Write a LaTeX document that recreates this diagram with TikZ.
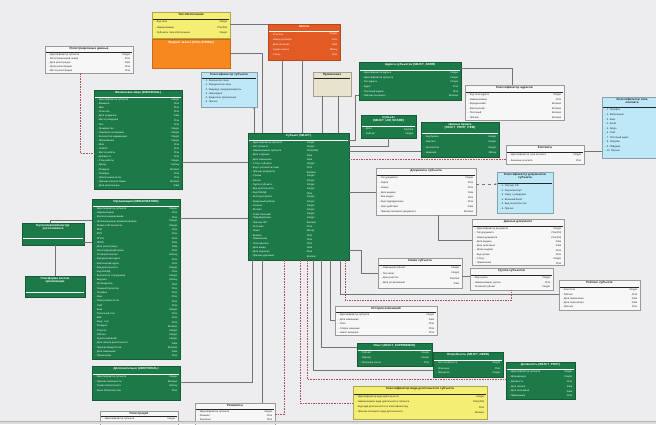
\documentclass[tikz,border=0pt]{standalone}
\usepackage{fontspec}
\setmainfont{Liberation Sans}
\usetikzlibrary{calc,fit,arrows.meta}

\definecolor{bgcol}{HTML}{EDEDEF}
\definecolor{gfill}{HTML}{1C7A48}
\definecolor{ofill}{HTML}{F7871F}
\definecolor{rfill}{HTML}{E25A24}
\definecolor{yfill}{HTML}{F4EE72}
\definecolor{bfill}{HTML}{BDE8F7}
\definecolor{tfill}{HTML}{E7E3CC}
\definecolor{redln}{HTML}{B5505A}

\newcommand\rowfont{\fontsize{2.5}{2.8}\selectfont}
\newcommand\ttlfont{\fontsize{3}{3.4}\selectfont\bfseries}

% entity box: name, box style, text style, x1, y1, x2, y2, title, rule offset
\newcommand\entbox[9]{%
  \node[#2, fit={(#4,#5) (#6,#7)}] (#1) {};
  \node[#3, font=\ttlfont, anchor=north, align=center] (#1-t) at ($(#1.north)+(0,1.1)$) {#8};
  \draw[#3, line width=0.2pt] ($(#1.north west)+(1.5,#9)$) -- ($(#1.north east)+(-1.5,#9)$);
}
% attribute rows, type column flush right: box, start offset, step, text style, list name/type
\newcommand\rows[5]{%
  \foreach \a/\b [count=\i] in {#5} {
    \node[#4, anchor=west] (#1-a\i) at ($(#1.north west)+(2.5,#2+\i*#3-#3/2+0.8)$) {-\hspace{1.2pt}\a};
    \node[#4, anchor=east] (#1-b\i) at ($(#1.north east)+(-2.5,#2+\i*#3-#3/2+0.8)$) {\b};
  }}
% attribute rows, type column starting at the middle
\newcommand\rowsmid[5]{%
  \foreach \a/\b [count=\i] in {#5} {
    \node[#4, anchor=west] (#1-a\i) at ($(#1.north west)+(2.5,#2+\i*#3-#3/2+0.8)$) {-\hspace{1.2pt}\a};
    \node[#4, anchor=west] (#1-b\i) at ($(#1.north)+(8,#2+\i*#3-#3/2+0.8)$) {\b};
  }}

\tikzset{
  gbox/.style={fill=gfill, draw=gfill!75!black, line width=0.3pt, inner sep=0pt},
  wbox/.style={fill=white!97!black, draw=black!40, line width=0.3pt, inner sep=0pt},
  ybox/.style={fill=yfill, draw=yfill!70!black, line width=0.3pt, inner sep=0pt},
  obox/.style={fill=ofill, draw=ofill!80!black, line width=0.3pt, inner sep=0pt},
  rbox/.style={fill=rfill, draw=rfill!80!black, line width=0.3pt, inner sep=0pt},
  bbox/.style={fill=bfill, draw=bfill!70!black, line width=0.3pt, inner sep=0pt},
  tbox/.style={fill=tfill, draw=tfill!70!black, line width=0.3pt, inner sep=0pt},
  gtxt/.style={color=white, font=\rowfont, inner sep=0.2pt},
  ktxt/.style={color=black!85, font=\rowfont, inner sep=0.2pt},
  conn/.style={draw=black!55, line width=0.4pt},
  rconn/.style={draw=redln, line width=0.4pt, dash pattern=on 1.6pt off 1pt},
}

\begin{document}
\begin{tikzpicture}[x=1pt,y=-1pt]
\useasboundingbox (0,0) rectangle (656,424);
\clip (0,0) rectangle (656,424);
\fill[bgcol] (0,0) rectangle (656,424);

% ---------- top group ----------
\entbox{ttype}{ybox}{ktxt}{152}{12}{230}{38}{Тип обеспечения}{7}
\rows{ttype}{7}{5.2}{ktxt}{Код типа/Integer, Наименование/Char(50), Субъекты типа обеспечения/Integer}

\node[obox, fit={(152,39) (230,68)}] (coll) {};
\node[gtxt, font=\ttlfont, anchor=north] (coll-t) at ($(coll.north)+(0,2.5)$) {Предмет залога (COLLATERAL)};

\entbox{pledge}{rbox}{gtxt}{268}{24}{340}{60}{Залоги}{7}
\rows{pledge}{7}{5.2}{gtxt}{Id залога/Integer, Номер договора/Char, Дата договора/Date, Сумма залога/Money, Статус/Char}

\entbox{note}{tbox}{ktxt}{313}{72}{351}{96}{Примечание}{6.5}

\entbox{sclass}{bbox}{ktxt}{201}{72}{257}{107}{Классификатор субъекта}{6}
\rows{sclass}{6}{4.3}{ktxt}{1. Физическое лицо/{}, 2. Юридическое лицо/{}, 3. Индивид. предприниматель/{}, 4. Нерезидент/{}, 5. Кредитная организация/{}, 6. Прочие/{}}

\entbox{reg}{wbox}{ktxt}{45}{46}{133}{73}{Регистрационные данные}{6}
\rows{reg}{6}{4}{ktxt}{Идентификатор субъекта/Integer, Регистрационный номер/Char, Дата регистрации/Date, Орган регистрации/Char, Место регистрации/Char}

% ---------- left group ----------
\entbox{indiv}{gbox}{gtxt}{94}{90}{182}{189}{Физическое лицо (INDIVIDUAL)}{7}
\rows{indiv}{7}{4.1}{gtxt}{Идентификатор субъекта/Integer, Фамилия/Char, Имя/Char, Отчество/Char, Дата рождения/Date, Место рождения/Char, Пол/Char, Гражданство/Integer, Семейное положение/Integer, Количество иждивенцев/Integer, Образование/Integer, ИНН/Char, СНИЛС/Char, Место работы/Char, Должность/Char, Стаж работы/Integer, Доход/Money, Резидент/Boolean, Телефон/Char, Электронная почта/Char, Признак клиента банка/Boolean, Дата регистрации/Date}

\entbox{org}{gbox}{gtxt}{92}{199}{180}{359}{Организация (ORGANIZATION)}{7}
\rows{org}{7}{4.2}{gtxt}{Идентификатор субъекта/Integer, Наименование/Char, Краткое наименование/Char, Организационно-правовая форма/Integer, Форма собственности/Integer, ИНН/Char, КПП/Char, ОГРН/Char, ОКПО/Char, Дата регистрации/Date, Регистрирующий орган/Char, Уставный капитал/Money, Юридический адрес/Char, Фактический адрес/Char, Вид деятельности/Integer, Код ОКВЭД/Char, Количество сотрудников/Integer, Выручка/Money, Руководитель/Char, Главный бухгалтер/Char, Телефон/Char, Факс/Char, Электронная почта/Char, Сайт/Char, Банк/Integer, Расчетный счет/Char, БИК/Char, Корр. счет/Char, Резидент/Boolean, Отрасль/Integer, Рейтинг/Integer, Группа компаний/Integer, Дата начала деятельности/Date, Признак банкротства/Boolean, Дата изменения/Date, Примечание/Char}

\entbox{addl}{gbox}{gtxt}{92}{366}{180}{400}{Дополнительно (ADDITIONAL)}{8}
\rows{addl}{8}{4.6}{gtxt}{Идентификатор субъекта/Integer, Признак связанности/Boolean, Сумма обязательств/Money, Иные обязательства/Char}

\entbox{acct}{gbox}{gtxt}{22}{223}{84}{245}{Бухгалтерский контур\\учета клиента}{15}
\entbox{plat}{gbox}{gtxt}{25}{276}{85}{297}{Платформа систем\\организации}{16}

% ---------- central entity ----------
\entbox{main}{gbox}{gtxt}{248}{133}{349}{260}{Субъект (SBJCT)}{7}
\rowsmid{main}{7}{4.2}{gtxt}{Идентификатор субъекта/Integer, Тип субъекта/Integer, Наименование субъекта/Char(255), Дата создания/Date, Дата изменения/Date, Статус субъекта/Integer, Код в учетной системе/Char, Признак резидента/Boolean, Страна/Integer, Регион/Integer, Группа субъекта/Integer, Вид деятельности/Integer, Код ОКВЭД/Char, Категория риска/Integer, Кредитный рейтинг/Integer, Сегмент/Integer, Филиал/Integer, Ответственный/Integer, Подразделение/Integer, Признак VIP/Boolean, Источник/Char, Лимит/Money, Валюта/Char, Примечание/Char, Пользователь/Char, Дата ввода/Date, Дата закрытия/Date, Признак удаления/Boolean}

% ---------- right group ----------
\entbox{addr}{gbox}{gtxt}{359}{62}{461}{100}{Адреса субъектов (SBJCT\_ADDR)}{8}
\rows{addr}{8}{4.6}{gtxt}{Идентификатор адреса/Integer, Идентификатор субъекта/Integer, Тип адреса/Integer, Адрес/Char, Почтовый индекс/Char, Признак основного/Boolean}

\entbox{addrt}{wbox}{ktxt}{465}{85}{564}{120}{Классификатор адресов}{7}
\rows{addrt}{7}{4.5}{ktxt}{Код типа адреса/Integer, Наименование/Char, Юридический/Boolean, Фактический/Boolean, Почтовый/Boolean, Прочий/Boolean}

\entbox{share}{gbox}{gtxt}{361}{115}{416}{138}{Субъект\\(SBJCT\_LIM\_SHARE)}{11}
\rows{share}{11}{5}{gtxt}{Доля/Decimal, Субъект/Integer}

\entbox{sec}{gbox}{gtxt}{421}{122}{499}{157}{Ценные бумаги\\(SBJCT\_PROP\_ITEM)}{11}
\rows{sec}{11}{5.5}{gtxt}{Код бумаги/Integer, Эмитент/Integer, Количество/Integer, Номинал/Money}

\entbox{cont}{wbox}{ktxt}{506}{145}{584}{164}{Контакты}{7}
\rows{cont}{7}{5}{ktxt}{Идентификатор типа контакта/Integer, Значение контакта/Char}

\entbox{ctype}{bbox}{ktxt}{602}{97}{662}{158}{Классификатор типа\\контакта}{10}
\rows{ctype}{10}{4.6}{ktxt}{1. Телефон/{}, 2. Мобильный/{}, 3. Факс/{}, 4. Email/{}, 5. Skype/{}, 6. Сайт/{}, 7. Почтовый адрес/{}, 8. Telegram/{}, 9. Пейджер/{}, 10. Прочее/{}}

\entbox{docs}{wbox}{ktxt}{376}{168}{476}{215}{Документы субъекта}{7}
\rows{docs}{7}{4.8}{ktxt}{Тип документа/Integer, Серия/Char, Номер/Char, Дата выдачи/Date, Кем выдан/Char, Код подразделения/Char, Срок действия/Date, Признак основного документа/Boolean}

\entbox{dclass}{bbox}{ktxt}{497}{172}{553}{213}{Классификатор документов\\субъекта}{11}
\rows{dclass}{11}{4.5}{ktxt}{1. Паспорт РФ/{}, 2. Загранпаспорт/{}, 3. Свид. о рождении/{}, 4. Военный билет/{}, 5. Вид на жительство/{}, 6. Прочие/{}}

\entbox{docd}{wbox}{ktxt}{472}{219}{564}{265}{Данные документа}{7}
\rows{docd}{7}{4.3}{ktxt}{Идентификатор документа/Integer, Тип документа/Char(20), Номер документа/Char(20), Дата выдачи/Date, Дата окончания/Date, Орган выдачи/Char, Код органа/Char, Статус/Integer, Примечание/Char}

\entbox{link}{wbox}{ktxt}{378}{258}{462}{288}{Связи субъекта}{7}
\rows{link}{7}{5}{ktxt}{Связанный субъект/Integer, Тип связи/Integer, Доля участия/Decimal, Дата установления/Date}

\entbox{grp}{wbox}{ktxt}{470}{268}{553}{290}{Группа субъектов}{7}
\rows{grp}{7}{4.5}{ktxt}{Код группы/Integer, Наименование группы/Char, Головной субъект/Integer}

\entbox{rate}{wbox}{ktxt}{559}{280}{640}{310}{Рейтинг субъекта}{7}
\rows{rate}{7}{4.3}{ktxt}{Агентство/Integer, Рейтинг/Char, Дата присвоения/Date, Дата пересмотра/Date, Прогноз/Char}

\entbox{hist}{wbox}{ktxt}{335}{306}{437}{335}{История изменений}{6}
\rows{hist}{6}{4.5}{ktxt}{Идентификатор субъекта/Integer, Дата изменения/Date, Поле/Char, Старое значение/Char, Новое значение/Char}

\entbox{exp}{gbox}{gtxt}{357}{343}{432}{366}{Опыт (SBJCT\_EXPERIENCE)}{7}
\rows{exp}{7}{4.6}{gtxt}{Субъект/Integer, Период/Integer, Описание опыта/Char}

\entbox{need}{gbox}{gtxt}{433}{352}{503}{377}{Потребность (SBJCT\_NEED)}{8}
\rows{need}{8}{5}{gtxt}{Тип потребности/Integer, Описание/Char, Приоритет/Integer}

\entbox{post}{gbox}{gtxt}{506}{362}{575}{399}{Должность (SBJCT\_POST)}{7}
\rows{post}{7}{4.8}{gtxt}{Идентификатор субъекта/Integer, Организация/Integer, Должность/Char, Дата начала/Date, Дата окончания/Date, Примечание/Char}

\entbox{okved}{ybox}{ktxt}{353}{386}{487}{419}{Классификатор вида деятельности субъекта}{8}
\rows{okved}{8}{5}{ktxt}{Идентификатор вида деятельности/Integer, Наименование вида деятельности субъекта/Char(255), Код вида деятельности по классификатору/Char, Признак основного вида деятельности/Boolean}

\entbox{bot1}{wbox}{ktxt}{100}{411}{178}{426}{Регистрация}{5.5}
\rows{bot1}{5.5}{4}{ktxt}{Идентификатор субъекта/Integer}

\entbox{bot2}{wbox}{ktxt}{195}{403}{275}{426}{Реквизиты}{6}
\rows{bot2}{6}{4}{ktxt}{Идентификатор субъекта/Integer, Реквизит/Char, Значение/Char}

% ---------- connectors ----------
\draw[conn] (ttype.east |- 0,24) -- (pledge.west |- 0,24);
\draw[conn] (coll.east |- 0,53) -| (main.north -| 262,0);
\draw[conn] (pledge.south -| 282,0) -- (main.north -| 282,0);
\draw[conn] (pledge.south -| 302,0) -- (main.north -| 302,0);
\draw[conn] (note.south -| 322,0) -- (main.north -| 322,0);
\draw[conn] (note.south -| 338,0) -- (main.north -| 338,0);
\draw[conn,-{Stealth[length=2pt,width=1.6pt]}] (main.north -| 254,0) -- (sclass.south -| 254,0);

\draw[rconn] (reg.south -| 80,0) |- (indiv.west |- 0,153);
\draw[conn] (indiv.east |- 0,162) -- (main.west |- 0,162);
\draw[conn] (org.east |- 0,218) -- (main.west |- 0,218);
\draw[conn] (addl.east |- 0,382) -| (main.south -| 252,0);
\draw[conn] (acct.north -| 50,0) |- (org.west |- 0,220);
\draw[conn] (acct.east |- 0,242) -- (org.west |- 0,242);
\draw[conn] (acct.south -| 55,0) -- (plat.north -| 55,0);

\draw[conn] (addr.west |- 0,95) -- ++(-4,0) |- (main.east |- 0,140);
\draw[conn] (share.south -| 388,0) |- (main.east |- 0,146);
\draw[conn] (sec.west |- 0,151) -- (main.east |- 0,151);
\draw[rconn] (cont.west |- 0,159) -- (main.east |- 0,159);
\draw[conn] (addr.east |- 0,68) -| (addrt.north -| 512,0);
\draw[conn] (cont.east |- 0,151) -- (ctype.west |- 0,151);
\draw[conn] (docs.west |- 0,192) -- (main.east |- 0,192);
\draw[conn,dashed,-{Stealth[length=2pt,width=1.6pt]}] (docs.east |- 0,184) -- (dclass.west |- 0,184);
\draw[conn] (docs.south -| 438,0) |- (docd.west |- 0,240);
\draw[conn] (main.east |- 0,250) -- ++(12,0) |- (link.west |- 0,273);
\draw[conn] (link.east |- 0,276) -- (grp.west |- 0,276);
\draw[conn] (main.south -| 340,0) |- (rate.west |- 0,294);
\draw[rconn] (main.south -| 345,0) |- ($(grp.south)+(0,10)$) -- (grp.south);
\draw[conn] (main.south -| 330,0) |- (hist.west |- 0,320);
\draw[conn] (main.south -| 321,0) |- (exp.west |- 0,347);
\draw[conn] (main.south -| 313,0) |- (need.west |- 0,370);
\draw[rconn] (main.south -| 307,0) |- (post.west |- 0,379);
\draw[rconn] (main.south -| 300,0) |- (okved.west |- 0,403);
\draw[conn] (main.south -| 262,0) -- (bot2.north -| 262,0);
\draw[rconn] (main.south -| 284,0) |- (bot2.east |- 0,414);

% window edge along the bottom
\fill[black!14] (0,421) rectangle (656,424);
\draw[black!30, line width=0.4pt] (0,421) -- (656,421);
\end{tikzpicture}
\end{document}
